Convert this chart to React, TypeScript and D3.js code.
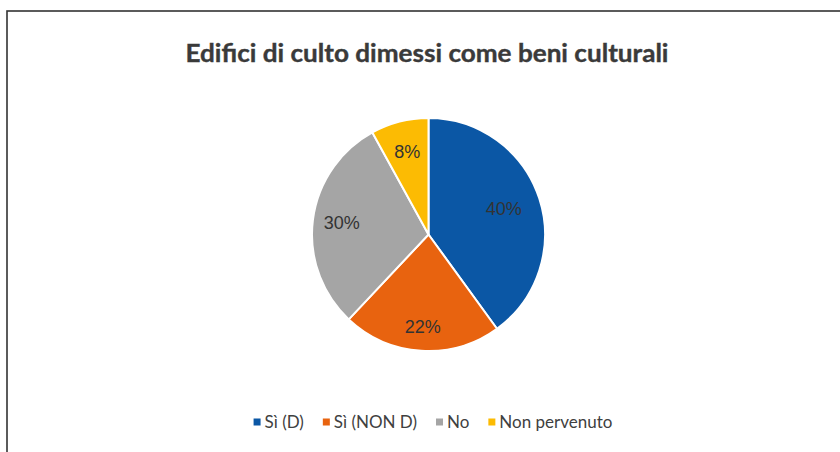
import React, { useEffect, useRef } from "react";
import * as d3 from "d3";

const categories = ["Sì (D)", "Sì (NON D)", "No", "Non pervenuto"];
const values = [40, 22, 30, 8];
const colors = ["#0b57a5", "#e8630f", "#a5a5a5", "#fcbb03"];
const labelRadiusFrac = [0.68, 0.8, 0.75, 0.73];
const title = "Edifici di culto dimessi come beni culturali";

export default function App() {
  const ref = useRef<SVGSVGElement>(null);

  useEffect(() => {
    const svg = d3.select(ref.current);
    svg.selectAll("*").remove();
    const W = 840, H = 452;
    svg.append("rect").attr("width", W).attr("height", H).attr("fill", "#ffffff");
    svg.append("rect")
      .attr("x", 7).attr("y", 11).attr("width", W).attr("height", H)
      .attr("fill", "none").attr("stroke", "#333").attr("stroke-width", 1.6);

    svg.append("text")
      .attr("x", 427).attr("y", 62)
      .attr("text-anchor", "middle")
      .attr("font-family", "Lato, 'Open Sans', sans-serif")
      .attr("font-weight", 700)
      .attr("font-size", 25)
      .attr("fill", "#3a3a3a")
      .attr("stroke", "#3a3a3a")
      .attr("stroke-width", 0.4)
      .attr("textLength", 483)
      .attr("lengthAdjust", "spacingAndGlyphs")
      .text(title);

    const cx = 428.5, cy = 234.5, R = 116.5;
    const data = categories.map((c, i) => ({ c, v: values[i], i }));
    const pie = d3.pie<any>().value((d) => d.v).sort(null);
    const arcs = pie(data);
    const arc = d3.arc<any>().innerRadius(0).outerRadius(R);
    const g = svg.append("g").attr("transform", `translate(${cx},${cy})`);
    g.selectAll("path").data(arcs).enter().append("path")
      .attr("d", arc as any)
      .attr("fill", (d: any) => colors[d.data.i])
      .attr("stroke", "#ffffff")
      .attr("stroke-width", 2)
      .attr("stroke-linejoin", "round");

    g.selectAll("text.lbl").data(arcs).enter().append("text")
      .attr("class", "lbl")
      .attr("transform", (d: any) => {
        const rr = R * labelRadiusFrac[d.data.i];
        const a = d3.arc<any>().innerRadius(rr).outerRadius(rr);
        const [x, y] = a.centroid(d);
        return `translate(${x},${y})`;
      })
      .attr("text-anchor", "middle")
      .attr("dy", "0.3em")
      .attr("font-family", "'Liberation Sans', Arial, sans-serif")
      .attr("font-size", 18)
      .attr("fill", "#333")
      .text((d: any) => `${d.data.v}%`);

    // legend
    const lg = svg.append("g");
    const items = lg.selectAll("g").data(data).enter().append("g");
    items.append("rect").attr("width", 7).attr("height", 7)
      .attr("y", -3.5).attr("fill", (d: any) => colors[d.i]);
    items.append("text")
      .attr("x", 11).attr("dy", "0.35em")
      .attr("font-family", "Lato, 'Open Sans', sans-serif")
      .attr("font-size", 17)
      .attr("fill", "#404040")
      .text((d: any) => d.c);
    const widths: number[] = [];
    items.each(function () {
      const t = d3.select(this).select("text").node() as SVGTextElement;
      widths.push(11 + t.getComputedTextLength());
    });
    const gap = 19;
    const total = widths.reduce((a, b) => a + b, 0) + gap * (widths.length - 1);
    let x = 433 - total / 2;
    items.attr("transform", (_d: any, i: number) => {
      const t = `translate(${x},422)`;
      x += widths[i] + gap;
      return t;
    });
  }, []);

  return (
    <svg ref={ref} width={840} height={452}
      style={{ position: "absolute", left: 0, top: 0, display: "block" }} />
  );
}
